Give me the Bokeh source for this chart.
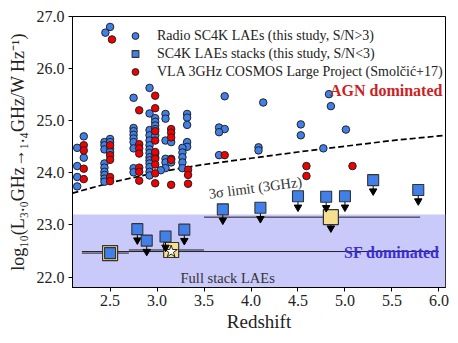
import numpy as np
from bokeh.plotting import figure
from bokeh.models import (FixedTicker, PrintfTickFormatter, Label, Legend,
                          LegendItem, BoxAnnotation)
from bokeh.embed import file_html
from bokeh.resources import INLINE

# ---------------- data ----------------
# Radio SC4K LAEs (this study, S/N>3)
radio_z = [2.50, 2.45,
           2.22, 2.15, 2.22, 2.15, 2.15, 2.15,
           2.44, 2.44, 2.44, 2.44, 2.44, 2.44, 2.44, 2.44, 2.44,
           2.50, 2.50, 2.50, 2.50,
           2.75, 2.75, 2.75, 2.75, 2.75, 2.75, 2.75, 2.75, 2.75,
           2.92, 2.92, 2.92, 2.92, 2.92, 2.92, 2.92, 2.92, 2.92, 2.92, 2.92, 2.92, 2.92, 2.92,
           2.98, 2.98, 2.98, 2.98, 2.98, 2.98, 2.98,
           3.09, 3.09, 3.09, 3.09, 3.09, 3.09, 3.04,
           3.15, 3.15, 3.15,
           3.32, 3.32, 3.32, 3.32, 3.32, 3.27, 3.27, 3.27, 3.27, 3.27,
           3.66, 3.72, 3.66, 3.72, 4.13, 4.83, 4.85, 4.53, 4.53, 5.01,
           3.66, 4.08, 4.08, 4.77]
radio_L = [26.80, 26.69,
           24.70, 24.48, 24.29, 24.13, 23.92, 23.74,
           24.59, 24.53, 24.45, 24.18, 24.10, 24.02, 23.96, 23.89, 23.83,
           24.65, 24.59, 24.47, 24.40,
           25.44, 24.86, 24.80, 24.73, 24.66, 24.59, 24.47, 24.09, 24.01,
           25.63, 25.14, 24.82, 24.72, 24.62, 24.53, 24.45, 24.38, 24.30, 24.24, 24.18, 24.11, 24.02, 23.95,
           25.05, 24.98, 24.91, 24.84, 24.72, 24.37, 24.30,
           25.13, 25.04, 24.62, 24.27, 24.20, 24.09, 24.05,
           24.59, 24.27, 24.20,
           25.13, 25.06, 24.92, 24.59, 24.50, 24.48, 24.39, 24.30, 24.20, 24.09,
           24.87, 24.84, 24.78, 25.47, 25.35, 25.51, 25.28, 24.93, 24.72, 24.83,
           24.34, 24.49, 24.43, 24.47]

# VLA 3GHz COSMOS Large Project (Smolcic+17)
vla_z = [2.52,
         2.22, 2.22, 2.22, 2.22,
         2.50, 2.50, 2.50, 2.50, 2.50,
         2.81, 2.81, 2.81, 2.81, 2.81, 2.81, 2.81,
         2.98, 2.98, 2.98, 2.98, 2.98, 2.98, 2.98, 2.98, 2.98,
         3.15, 3.15, 3.15, 3.15, 3.15,
         3.33, 3.33, 3.33,
         3.72, 4.59, 5.08, 4.59]
vla_L = [26.56,
         24.53, 24.43, 24.08, 23.88,
         24.53, 24.34, 24.25, 23.92, 23.84,
         25.20, 24.55, 24.47, 24.37, 24.10, 24.02, 23.85,
         25.48, 25.24, 24.80, 24.62, 24.40, 24.27, 24.16, 23.99, 23.80,
         24.84, 24.77, 24.68, 24.25, 23.77,
         24.06, 23.96, 23.79,
         24.34, 24.13, 24.13, 23.94]

# SC4K LAE stacks (S/N<3): upper limits flagged
stack_z = [2.50, 2.79, 2.89, 3.09, 3.29, 3.70, 4.10, 4.50, 4.80, 5.00, 5.30, 5.78]
stack_L = [22.46, 22.92, 22.70, 22.78, 22.91, 23.30, 23.33, 23.55, 23.54, 23.55, 23.86, 23.67]
stack_upper = [False, True, True, True, True, True, True, True, True, True, True, True]

# redshift-bin stacks (yellow squares) with redshift ranges
bin_z = [2.50, 3.15, 4.85]
bin_L = [22.46, 22.52, 23.15]
bin_zlo = [2.20, 2.70, 3.50]
bin_zhi = [2.70, 3.50, 5.80]
bin_upper = [False, False, True]

# full stack of all LAEs
full_z = [3.15]
full_L = [22.49]
full_zlo = [2.20]
full_zhi = [6.00]

# 3 sigma luminosity limit (3 GHz)
lim_z = [2.10, 2.50, 3.00, 3.50, 4.00, 4.50, 5.00, 5.50, 6.07]
lim_L = [23.61, 23.81, 24.01, 24.16, 24.28, 24.40, 24.51, 24.62, 24.72]

SF_TOP = 23.2

x_ticks = [2.5, 3.0, 3.5, 4.0, 4.5, 5.0, 5.5, 6.0]
y_ticks = [22.0, 23.0, 24.0, 25.0, 26.0, 27.0]

# ---------------- styling ----------------
SERIF = "Liberation Serif"
BLUE = "#4080e8"
RED = "#f00000"
YELLOW = "#f6df8e"
SHADE = "#c9c9fa"
EDGE = "#222222"

p = figure(width=458, height=343, x_range=(2.10, 6.07), y_range=(21.8, 27.0),
           output_backend="svg", toolbar_location=None,
           min_border_left=72, min_border_right=13, min_border_top=16,
           min_border_bottom=56)
p.xgrid.visible = False
p.ygrid.visible = False
p.outline_line_color = "black"
p.outline_line_width = 1
p.background_fill_color = "white"
p.border_fill_color = "white"

for ax in (p.xaxis[0], p.yaxis[0]):
    ax.axis_line_color = "black"
    ax.major_tick_line_color = "black"
    ax.major_tick_out = 4
    ax.major_tick_in = 0
    ax.minor_tick_line_color = None
    ax.major_label_text_font = SERIF
    ax.major_label_text_font_size = "16px"
    ax.major_label_text_color = "#222222"
    ax.axis_label_text_font = SERIF
    ax.axis_label_text_font_style = "normal"
    ax.axis_label_text_color = "#222222"

p.xaxis.ticker = FixedTicker(ticks=x_ticks)
p.yaxis.ticker = FixedTicker(ticks=y_ticks)
p.xaxis.formatter = PrintfTickFormatter(format="%.1f")
p.yaxis.formatter = PrintfTickFormatter(format="%.1f")
p.xaxis.major_label_standoff = 3
p.yaxis.major_label_standoff = 4
p.xaxis.axis_label = "Redshift"
p.xaxis.axis_label_text_font_size = "19px"
p.xaxis.axis_label_standoff = 2
p.yaxis.axis_label = "log₁₀(L₃.₀GHz→₁.₄GHz/W Hz⁻¹)"
p.yaxis.axis_label_text_font_size = "18px"
p.yaxis.axis_label_standoff = 6

# SF dominated region
p.add_layout(BoxAnnotation(top=SF_TOP, fill_color=SHADE, fill_alpha=1.0,
                           line_color=None, level="underlay"))

# 3 sigma limit
p.line(lim_z, lim_L, line_color="black", line_width=1.7, line_dash="6 3")

r_radio = p.scatter(radio_z, radio_L, marker="circle", size=7.5, fill_color=BLUE,
                    line_color=EDGE, line_width=1)
r_vla = p.scatter(vla_z, vla_L, marker="circle", size=7.5, fill_color=RED,
                  line_color=EDGE, line_width=1)

# horizontal redshift ranges
p.segment(x0=full_zlo, y0=full_L, x1=full_zhi, y1=full_L, line_color="#222222", line_width=1)
p.segment(x0=bin_zlo, y0=bin_L, x1=bin_zhi, y1=bin_L, line_color="#222222", line_width=1)

ARROW = 0.2
def arrows(zs, Ls, flags):
    xs = [z for z, f in zip(zs, flags) if f]
    ys = [L for L, f in zip(Ls, flags) if f]
    ye = [L - ARROW for L in ys]
    p.segment(x0=xs, y0=ys, x1=xs, y1=ye, line_color="black", line_width=1)
    p.scatter(xs, [L - ARROW - 0.01 for L in ys], marker="inverted_triangle", size=7.5,
              fill_color="black", line_color="black")

arrows(bin_z, bin_L, bin_upper)
p.scatter(bin_z, bin_L, marker="square", size=15, fill_color=YELLOW,
          line_color="#333333", line_width=1.2)
p.scatter(full_z, full_L, marker="star", size=13, fill_color="white",
          line_color="#222222", line_width=1)
arrows(stack_z, stack_L, stack_upper)
r_stack = p.scatter(stack_z, stack_L, marker="square", size=11, fill_color=BLUE,
                    line_color="#333333", line_width=1.1)

# texts
p.add_layout(Label(x=4.84, y=25.58, text="AGN dominated", text_font=SERIF,
                   text_font_size="16px", text_font_style="bold", text_color="#cc1f1f",
                   text_baseline="middle"))
p.add_layout(Label(x=4.99, y=22.48, text="SF dominated", text_font=SERIF,
                   text_font_size="16px", text_font_style="bold", text_color="#3b2fd0",
                   text_baseline="middle"))
p.add_layout(Label(x=3.25, y=21.98, text="Full stack LAEs", text_font=SERIF,
                   text_font_size="14.5px", text_color="#333333", text_baseline="middle"))
p.add_layout(Label(x=3.55, y=23.60, text="3σ limit (3GHz)", text_font=SERIF,
                   text_font_size="14.5px", text_color="#333333", angle=0.13,
                   text_baseline="alphabetic"))

# legend
legend = Legend(items=[
    LegendItem(label="Radio SC4K LAEs (this study, S/N>3)", renderers=[r_radio]),
    LegendItem(label="SC4K LAEs stacks (this study, S/N<3)", renderers=[r_stack]),
    LegendItem(label="VLA 3GHz COSMOS Large Project (Smolčić+17)", renderers=[r_vla]),
], location=(53, 207), border_line_color=None, background_fill_alpha=0.0,
   padding=0, margin=0, spacing=1, glyph_width=20, glyph_height=17, label_height=17,
   label_standoff=12, label_text_font=SERIF, label_text_font_size="14px",
   label_text_color="#222222")
p.add_layout(legend)

open("out.html", "w").write(file_html(p, INLINE))
